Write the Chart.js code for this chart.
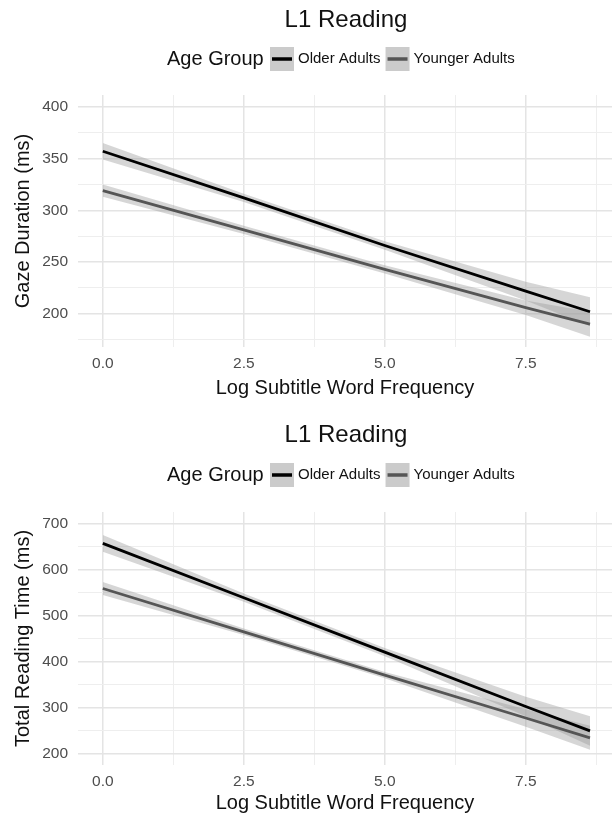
<!DOCTYPE html>
<html>
<head>
<meta charset="utf-8">
<script src="https://cdn.jsdelivr.net/npm/chart.js@4.4.1/dist/chart.umd.min.js"></script>
<style>
  body { margin: 0; background: #fff; }
  canvas { display: block; }
</style>
</head>
<body>
<canvas id="gazeChart" width="612" height="408"></canvas>
<canvas id="trtChart" width="612" height="408"></canvas>
<script>
// values
const freq = [0, 2.5, 5, 7.5, 8.64];
const groups = ["Older Adults", "Younger Adults"];

const gazeOlder   = [357, 312, 266, 222, 202];
const gazeOlderHi = [365, 316, 270, 231, 216];
const gazeOlderLo = [349, 308, 262, 213, 188];
const gazeYoung   = [319, 281, 243, 206, 190];
const gazeYoungHi = [325, 285, 247, 213, 202];
const gazeYoungLo = [313, 277, 239, 199, 178];

const trtOlder   = [657, 539, 421, 303, 250];
const trtOlderHi = [675, 548, 430, 324, 282];
const trtOlderLo = [639, 530, 412, 282, 218];
const trtYoung   = [559, 465, 371, 278, 235];
const trtYoungHi = [573, 472, 378, 297, 261];
const trtYoungLo = [545, 458, 364, 259, 209];

const xGrid = [0, 1.25, 2.5, 3.75, 5, 6.25, 7.5, 8.75];
const xLabels = [0, 2.5, 5, 7.5];
const gazeGrid = [175, 200, 225, 250, 275, 300, 325, 350, 375, 400];
const gazeLabels = [200, 250, 300, 350, 400];
const trtGrid = [200, 250, 300, 350, 400, 450, 500, 550, 600, 650, 700];
const trtLabels = [200, 300, 400, 500, 600, 700];

const lineColors = ["#000000", "#555555"];
const bandFill = "rgba(153,153,153,0.4)";
const FONT = '"Liberation Sans", Arial, sans-serif';

const headerPlugin = {
    id: "header",
    afterDraw(chart, args, opts) {
        const ctx = chart.ctx;
        ctx.save();
        ctx.fillStyle = "#111";
        ctx.textBaseline = "middle";
        ctx.textAlign = "center";
        ctx.font = "24px " + FONT;
        ctx.fillText(opts.title, 346, opts.titleY);

        ctx.textAlign = "left";
        ctx.font = "20px " + FONT;
        ctx.fillText("Age Group", 167, opts.legendY);

        ctx.font = "15px " + FONT;
        let x = 270;
        groups.forEach((g, i) => {
            ctx.fillStyle = "#cbcbcb";
            ctx.fillRect(x, opts.legendY - 12, 24, 24);
            ctx.strokeStyle = lineColors[i];
            ctx.lineWidth = 3.5;
            ctx.beginPath();
            ctx.moveTo(x + 2, opts.legendY);
            ctx.lineTo(x + 22, opts.legendY);
            ctx.stroke();
            ctx.fillStyle = "#111";
            ctx.fillText(g, x + 28, opts.legendY);
            x += 28 + ctx.measureText(g).width + 5;
        });
        ctx.restore();
    }
};

function pts(ys) {
    return freq.map((x, i) => ({ x: x, y: ys[i] }));
}

function bandSets(hi, lo) {
    return [
        { data: pts(hi), borderWidth: 0, pointRadius: 0, fill: false, order: 2 },
        { data: pts(lo), borderWidth: 0, pointRadius: 0, fill: "-1",
          backgroundColor: bandFill, order: 2 }
    ];
}

function lineSet(ys, i) {
    return { data: pts(ys), borderColor: lineColors[i], borderWidth: 2.8,
             pointRadius: 0, fill: false, order: 0 };
}

function makeChart(id, cfg) {
    const isMajorY = v => cfg.yLabels.includes(v);
    return new Chart(document.getElementById(id), {
        type: "line",
        data: {
            datasets: [
                ...bandSets(cfg.oHi, cfg.oLo),
                ...bandSets(cfg.yHi, cfg.yLo),
                lineSet(cfg.older, 0),
                lineSet(cfg.young, 1)
            ]
        },
        options: {
            responsive: false,
            animation: false,
            layout: { padding: { top: cfg.top, right: 0, bottom: 0, left: 0 } },
            plugins: {
                legend: { display: false },
                tooltip: { enabled: false },
                header: { title: "L1 Reading", titleY: cfg.titleY, legendY: cfg.legendY }
            },
            scales: {
                x: {
                    type: "linear",
                    min: -0.44,
                    max: 9.03,
                    afterBuildTicks: s => { s.ticks = xGrid.map(v => ({ value: v })); },
                    afterFit: s => { s.height = cfg.xHeight; },
                    border: { display: false },
                    grid: {
                        drawTicks: false,
                        color: c => xLabels.includes(c.tick.value) ? "#e4e4e4" : "#eeeeee",
                        lineWidth: c => xLabels.includes(c.tick.value) ? 1.5 : 1
                    },
                    ticks: {
                        autoSkip: false,
                        maxRotation: 0,
                        padding: 7,
                        color: "#4d4d4d",
                        font: { family: FONT, size: 15.5 },
                        callback: v => xLabels.includes(v) ? v.toFixed(1) : ""
                    },
                    title: {
                        display: true,
                        text: "Log Subtitle Word Frequency",
                        color: "#111",
                        font: { family: FONT, size: 20 },
                        padding: { top: 0, bottom: cfg.xTitlePad }
                    }
                },
                y: {
                    min: cfg.yMin,
                    max: cfg.yMax,
                    afterBuildTicks: s => { s.ticks = cfg.yGrid.map(v => ({ value: v })); },
                    afterFit: s => { s.width = 78; },
                    border: { display: false },
                    grid: {
                        drawTicks: false,
                        color: c => isMajorY(c.tick.value) ? "#e4e4e4" : "#eeeeee",
                        lineWidth: c => isMajorY(c.tick.value) ? 1.5 : 1
                    },
                    ticks: {
                        autoSkip: false,
                        padding: 10,
                        color: "#4d4d4d",
                        font: { family: FONT, size: 15.5 },
                        callback: v => isMajorY(v) ? String(v) : ""
                    },
                    title: {
                        display: true,
                        text: cfg.yTitle,
                        color: "#111",
                        font: { family: FONT, size: 20 },
                        padding: { top: 11, bottom: 0 }
                    }
                }
            }
        },
        plugins: [headerPlugin]
    });
}

makeChart("gazeChart", {
    older: gazeOlder, oHi: gazeOlderHi, oLo: gazeOlderLo,
    young: gazeYoung, yHi: gazeYoungHi, yLo: gazeYoungLo,
    yTitle: "Gaze Duration (ms)",
    yMin: 168, yMax: 411.3,
    yGrid: gazeGrid, yLabels: gazeLabels,
    top: 95, xHeight: 61, xTitlePad: 8,
    titleY: 20, legendY: 59
});

makeChart("trtChart", {
    older: trtOlder, oHi: trtOlderHi, oLo: trtOlderLo,
    young: trtYoung, yHi: trtYoungHi, yLo: trtYoungLo,
    yTitle: "Total Reading Time (ms)",
    yMin: 176, yMax: 725,
    yGrid: trtGrid, yLabels: trtLabels,
    top: 104, xHeight: 51, xTitlePad: 1,
    titleY: 27, legendY: 67
});
</script>
</body>
</html>
